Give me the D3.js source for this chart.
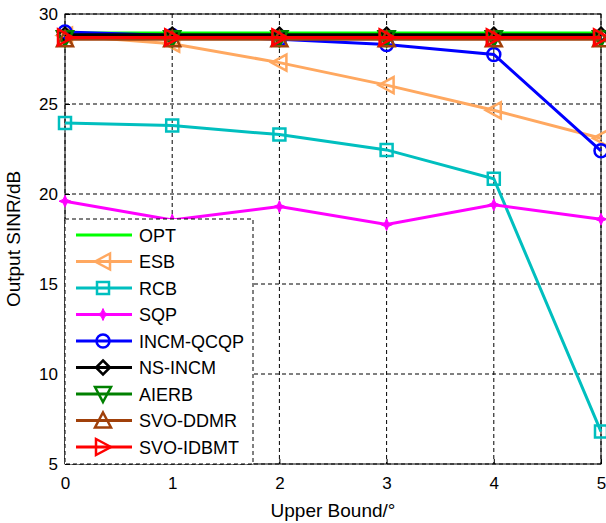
<!DOCTYPE html>
<html>
<head>
<meta charset="utf-8">
<script src="https://cdn.jsdelivr.net/npm/d3@7"></script>
<style>
  body { margin: 0; background: #fff; }
  text { font-family: "Liberation Sans", Arial, sans-serif; }
</style>
</head>
<body>
<div id="chart"></div>
<script>
// data
var bounds = [0, 1, 2, 3, 4, 5];
var opt      = [28.95, 28.95, 28.95, 28.95, 28.95, 28.95];
var esb      = [28.8, 28.35, 27.3, 26.05, 24.65, 23.1];
var rcb      = [23.95, 23.8, 23.3, 22.45, 20.85, 6.8];
var sqp      = [19.6, 18.55, 19.3, 18.3, 19.4, 18.6];
var incmQcqp = [29.0, 28.8, 28.6, 28.3, 27.75, 22.4];
var nsIncm   = [28.85, 28.85, 28.85, 28.85, 28.85, 28.85];
var aierb    = [28.65, 28.65, 28.65, 28.65, 28.65, 28.65];
var svoDdmr  = [28.6, 28.6, 28.6, 28.6, 28.6, 28.6];
var svoIdbmt = [28.7, 28.7, 28.7, 28.7, 28.7, 28.7];
var yTicks = [5, 10, 15, 20, 25, 30];

var series = [
  {name: "OPT", values: opt, color: "#00ff00", marker: "none"},
  {name: "ESB", values: esb, color: "#ffa860", marker: "left"},
  {name: "RCB", values: rcb, color: "#00bfbf", marker: "square"},
  {name: "SQP", values: sqp, color: "#ff00ff", marker: "star"},
  {name: "INCM-QCQP", values: incmQcqp, color: "#0000ff", marker: "circle"},
  {name: "NS-INCM", values: nsIncm, color: "#000000", marker: "diamond"},
  {name: "AIERB", values: aierb, color: "#008000", marker: "down"},
  {name: "SVO-DDMR", values: svoDdmr, color: "#a0400a", marker: "up"},
  {name: "SVO-IDBMT", values: svoIdbmt, color: "#ff0000", marker: "right"}
];

var margin = {top: 14, right: 5, bottom: 59, left: 65},
    width = 606 - margin.left - margin.right,
    height = 523 - margin.top - margin.bottom;

var svg = d3.select("#chart")
  .append("svg")
    .attr("width", 606)
    .attr("height", 523)
  .append("g")
    .attr("transform", "translate(" + margin.left + "," + margin.top + ")");

var x = d3.scaleLinear().domain([0, 5]).range([0, width]);
var y = d3.scaleLinear().domain([5, 30]).range([height, 0]);

// grid
svg.append("g")
  .selectAll("line")
  .data(bounds)
  .enter().append("line")
    .attr("x1", d => x(d)).attr("x2", d => x(d))
    .attr("y1", 0).attr("y2", height)
    .attr("stroke", "#000").attr("stroke-width", 1)
    .attr("stroke-dasharray", "4,3");
svg.append("g")
  .selectAll("line")
  .data(yTicks)
  .enter().append("line")
    .attr("x1", 0).attr("x2", width)
    .attr("y1", d => y(d)).attr("y2", d => y(d))
    .attr("stroke", "#000").attr("stroke-width", 1)
    .attr("stroke-dasharray", "4,3");

// axes
var xAxis = svg.append("g")
  .attr("transform", "translate(0," + height + ")")
  .call(d3.axisBottom(x).tickValues(bounds).tickFormat(d3.format("d")).tickSize(-5).tickPadding(13));
var yAxis = svg.append("g")
  .call(d3.axisLeft(y).tickValues(yTicks).tickSize(-5).tickPadding(7));
[xAxis, yAxis].forEach(function (a) {
  a.select(".domain").remove();
  a.selectAll("text").attr("font-size", 17).attr("fill", "#000")
    .style("font-family", "'Liberation Sans', Arial, sans-serif");
  a.selectAll("line").attr("stroke", "#000");
});

svg.append("rect")
  .attr("x", 0).attr("y", 0).attr("width", width).attr("height", height)
  .attr("fill", "none").attr("stroke", "#000").attr("stroke-width", 1);

// marker drawing
function drawMarker(g, type, color) {
  var s = 6;
  if (type === "none") return;
  if (type === "circle") {
    g.append("circle").attr("r", 6.5).attr("fill", "none").attr("stroke", color).attr("stroke-width", 2.5);
    return;
  }
  if (type === "star") {
    g.append("path")
      .attr("d", "M0,-6 L1.8,-1.8 L6,0 L1.8,1.8 L0,6 L-1.8,1.8 L-6,0 L-1.8,-1.8Z")
      .attr("fill", color).attr("stroke", color).attr("stroke-width", 1);
    return;
  }
  var pts;
  if (type === "square") pts = [[-s, -s], [s, -s], [s, s], [-s, s]];
  if (type === "diamond") pts = [[0, -7], [7, 0], [0, 7], [-7, 0]];
  if (type === "left") pts = [[-8, 0], [7, -8], [7, 8]];
  if (type === "right") pts = [[8, 0], [-7, -8], [-7, 8]];
  if (type === "up") pts = [[0, -8], [8, 7], [-8, 7]];
  if (type === "down") pts = [[0, 8], [8, -7], [-8, -7]];
  g.append("path")
    .attr("d", "M" + pts.join("L") + "Z")
    .attr("fill", "none").attr("stroke", color).attr("stroke-width", 2.5);
}

var line = d3.line()
  .x((d, i) => x(bounds[i]))
  .y(d => y(d));

series.forEach(function (s) {
  svg.append("path")
    .datum(s.values)
    .attr("fill", "none")
    .attr("stroke", s.color)
    .attr("stroke-width", 3)
    .attr("d", line);
  s.values.forEach(function (v, i) {
    var g = svg.append("g").attr("transform", "translate(" + x(bounds[i]) + "," + y(v) + ")");
    drawMarker(g, s.marker, s.color);
  });
});

// legend
var legend = svg.append("g");
legend.append("rect")
  .attr("x", 0).attr("y", 205).attr("width", 188).attr("height", height - 205)
  .attr("fill", "#fff").attr("stroke", "#000").attr("stroke-width", 1)
  .attr("stroke-dasharray", "4,3");
series.forEach(function (s, i) {
  var ly = 221 + i * 26.5;
  legend.append("line")
    .attr("x1", 11).attr("x2", 67).attr("y1", ly).attr("y2", ly)
    .attr("stroke", s.color).attr("stroke-width", 3);
  var g = legend.append("g").attr("transform", "translate(38," + ly + ")");
  drawMarker(g, s.marker, s.color);
  legend.append("text")
    .attr("x", 74).attr("y", ly + 6.5)
    .attr("font-size", 18)
    .text(s.name);
});

// axis titles
svg.append("text")
  .attr("x", width / 2).attr("y", height + 53)
  .attr("text-anchor", "middle").attr("font-size", 19)
  .text("Upper Bound/°");
svg.append("text")
  .attr("transform", "translate(-45," + (height / 2) + ") rotate(-90)")
  .attr("text-anchor", "middle").attr("font-size", 19)
  .text("Output SINR/dB");
</script>
</body>
</html>
